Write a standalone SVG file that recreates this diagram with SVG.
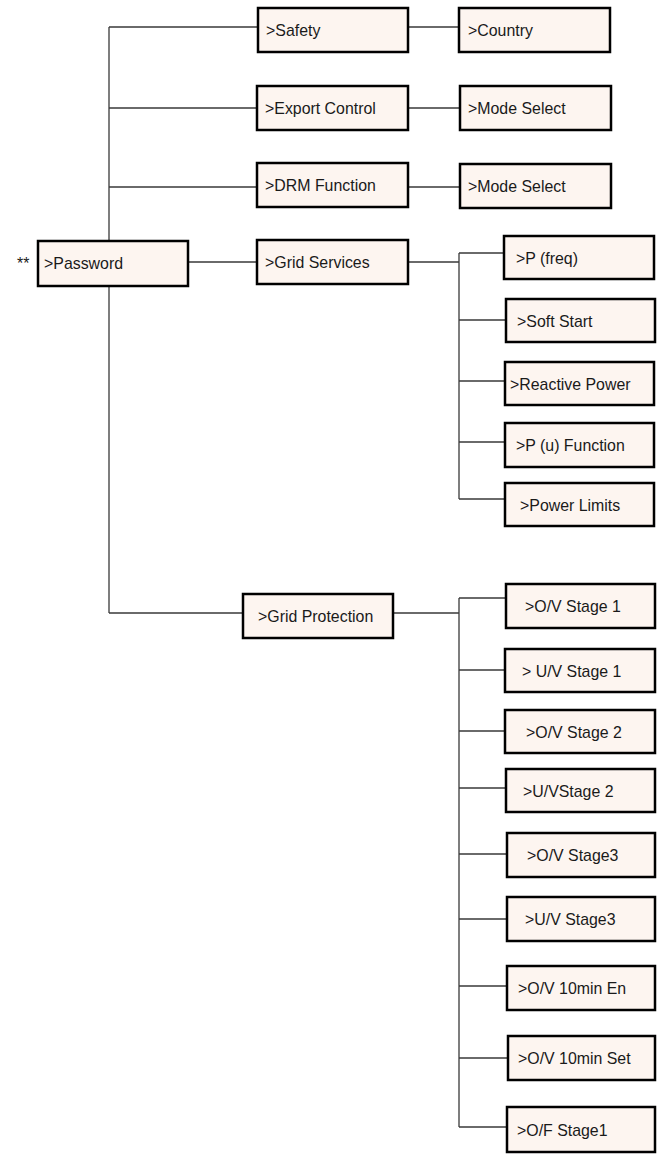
<svg xmlns="http://www.w3.org/2000/svg" width="657" height="1159" viewBox="0 0 657 1159">
<style>
.box{fill:#fdf5f0;stroke:#000;stroke-width:2.5}
.t{font-family:"Liberation Sans",Arial,sans-serif;font-size:15.9px;fill:#1a1a1a}
.c{stroke:#3a3a3a;stroke-width:1.3;fill:none}
</style>
<rect width="657" height="1159" fill="#fff"/>
<g id="connectors">
<path class="c" d="M109,27V240M109,286V613"/>
<path class="c" d="M109,27H257M109,108H257M109,187H257M188,262H257M109,613H243"/>
<path class="c" d="M409,27H459M409,108H460M409,187H460"/>
<path class="c" d="M409,262H459M459,253V499M459,253H504M459,320H506M459,381H505M459,442H505M459,499H505"/>
<path class="c" d="M394,613H459M459,598V1127M459,598H506M459,670H505M459,731H505M459,788H506M459,854H507M459,919H507M459,986H507M459,1058H508M459,1127H507"/>
</g>
<text class="t" x="17" y="269">**</text>
<g id="password"><rect class="box" x="38" y="241" width="150" height="45"/><text class="t" x="44" y="269">&gt;Password</text></g>
<g id="safety"><rect class="box" x="258" y="8" width="150" height="44"/><text class="t" x="266" y="35.5">&gt;Safety</text></g>
<g id="country"><rect class="box" x="459" y="8" width="151" height="44"/><text class="t" x="468" y="35.5">&gt;Country</text></g>
<g id="export-control"><rect class="box" x="257" y="86" width="151" height="44"/><text class="t" x="265" y="114">&gt;Export Control</text></g>
<g id="mode-select-1"><rect class="box" x="460" y="86" width="151" height="44"/><text class="t" x="468" y="114">&gt;Mode Select</text></g>
<g id="drm-function"><rect class="box" x="257" y="163" width="151" height="44"/><text class="t" x="265" y="191">&gt;DRM Function</text></g>
<g id="mode-select-2"><rect class="box" x="460" y="164" width="151" height="44"/><text class="t" x="468" y="192">&gt;Mode Select</text></g>
<g id="grid-services"><rect class="box" x="257" y="240" width="151" height="44"/><text class="t" x="265" y="268">&gt;Grid Services</text></g>
<g id="p-freq"><rect class="box" x="504" y="236" width="150" height="43"/><text class="t" x="516" y="263.5">&gt;P (freq)</text></g>
<g id="soft-start"><rect class="box" x="506" y="299" width="149" height="43"/><text class="t" x="517" y="326.5">&gt;Soft Start</text></g>
<g id="reactive-power"><rect class="box" x="505" y="362" width="149" height="43"/><text class="t" x="510" y="389.5">&gt;Reactive Power</text></g>
<g id="p-u-function"><rect class="box" x="505" y="423" width="149" height="44"/><text class="t" x="516" y="451">&gt;P (u) Function</text></g>
<g id="power-limits"><rect class="box" x="505" y="483" width="149" height="43"/><text class="t" x="520" y="510.5">&gt;Power Limits</text></g>
<g id="grid-protection"><rect class="box" x="243" y="594" width="150" height="44"/><text class="t" x="258" y="622">&gt;Grid Protection</text></g>
<g id="ov-stage-1"><rect class="box" x="506" y="584" width="149" height="44"/><text class="t" x="525" y="612">&gt;O/V Stage 1</text></g>
<g id="uv-stage-1"><rect class="box" x="505" y="649" width="150" height="43"/><text class="t" x="522" y="676.5">&gt; U/V Stage 1</text></g>
<g id="ov-stage-2"><rect class="box" x="505" y="710" width="150" height="43"/><text class="t" x="526" y="737.5">&gt;O/V Stage 2</text></g>
<g id="uv-stage-2"><rect class="box" x="506" y="769" width="149" height="43"/><text class="t" x="523" y="796.5">&gt;U/VStage 2</text></g>
<g id="ov-stage-3"><rect class="box" x="507" y="833" width="148" height="44"/><text class="t" x="527" y="861">&gt;O/V Stage3</text></g>
<g id="uv-stage-3"><rect class="box" x="507" y="897" width="148" height="44"/><text class="t" x="525" y="925">&gt;U/V Stage3</text></g>
<g id="ov-10min-en"><rect class="box" x="507" y="966" width="148" height="44"/><text class="t" x="518" y="994">&gt;O/V 10min En</text></g>
<g id="ov-10min-set"><rect class="box" x="508" y="1036" width="147" height="44"/><text class="t" x="518" y="1064">&gt;O/V 10min Set</text></g>
<g id="of-stage-1"><rect class="box" x="507" y="1107" width="148" height="45"/><text class="t" x="517" y="1135.5">&gt;O/F Stage1</text></g>
</svg>
